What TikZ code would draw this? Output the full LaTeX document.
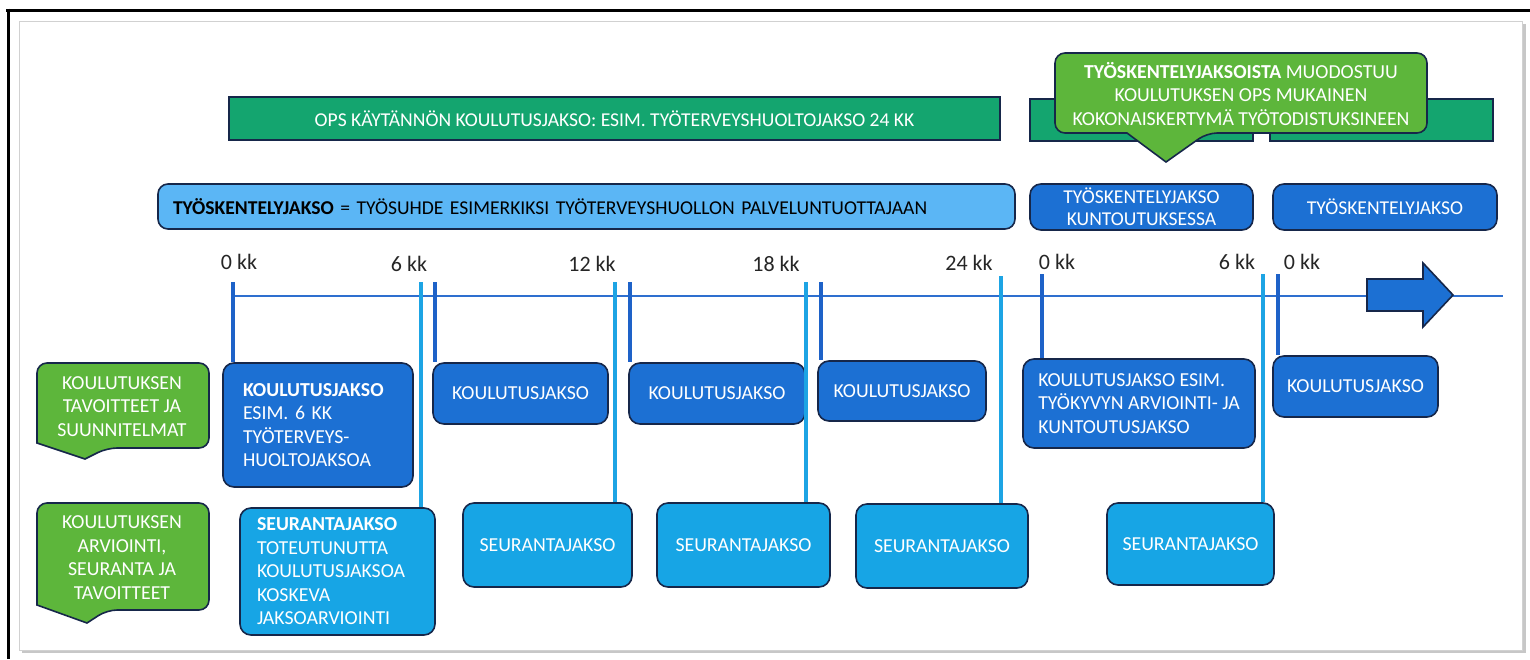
\documentclass[tikz,border=0pt]{standalone}
\usepackage{fontspec}
\setmainfont{Carlito}
\usetikzlibrary{calc}
\definecolor{cTeal}{HTML}{14A56F}
\definecolor{cLGreen}{HTML}{5DB63B}
\definecolor{cSky}{HTML}{5BB6F5}
\definecolor{cDBlue}{HTML}{1C70D3}
\definecolor{cLBlue}{HTML}{17A5E5}
\definecolor{cNavy}{HTML}{16274A}
\definecolor{cTickD}{HTML}{1E62C8}
\definecolor{cTickL}{HTML}{1DA4E4}
\definecolor{cLine}{HTML}{2E6FCF}
\newcommand\fsBox{\fontsize{19.8}{23.5}\selectfont}
\newcommand\fsHead{\fontsize{19.6}{22}\selectfont}
\newcommand\fsLab{\fontsize{22}{24}\selectfont}
\begin{document}
\begin{tikzpicture}[x=1pt,y=-1pt,
  bord/.style={draw=cNavy,line width=1.6pt},
  kbox/.style={bord,fill=cDBlue,rounded corners=11pt,text=white,inner sep=0pt,font=\fsBox},
  sbox/.style={bord,fill=cLBlue,rounded corners=11pt,text=white,inner sep=0pt,font=\fsBox},
  gbar/.style={bord,fill=cTeal,inner sep=0pt,text=white,font=\fsHead},
  gcall/.style={bord,fill=cLGreen,rounded corners=10pt},
  ctext/.style={text=white,inner sep=0pt,align=center,font=\fsBox},
  lab/.style={text=black!85,inner sep=0pt,font=\fsLab},
  dtick/.style={draw=cTickD,line width=3.5pt},
  ltick/.style={draw=cTickL,line width=4.5pt}]
\useasboundingbox (0,0) rectangle (1530,659);
% frame
\fill[black!22] (22,24) rectangle (1526,653);
\draw[fill=white,draw=black!18,line width=1pt] (19,21) rectangle (1522,650);
\draw[black,line width=3pt] (6,10) -- (1530,10);
\draw[black,line width=3pt] (8,8.5) -- (8,659);

% top bars
\node[gbar,minimum width=771pt,minimum height=43pt] (ops) at (614.5,118.5) {OPS KÄYTÄNNÖN KOULUTUSJAKSO: ESIM. TYÖTERVEYSHUOLTOJAKSO 24 KK};
\node[gbar,minimum width=223pt,minimum height=42pt] (opsA) at (1141.5,120) {};
\node[gbar,minimum width=223pt,minimum height=42pt] (opsB) at (1381.5,120) {};
% big callout
\draw[gcall] (1055,93) -- (1055,53) -- (1427,53) -- (1427,133) -- (1207,133) [sharp corners] -- (1166,162) -- (1127,133) [rounded corners=10pt] -- (1055,133) -- (1055,93);
\node[ctext] (callTop) at (1241,94) {\textbf{TYÖSKENTELYJAKSOISTA} MUODOSTUU\\KOULUTUKSEN OPS MUKAINEN\\KOKONAISKERTYMÄ TYÖTODISTUKSINEEN};

% work period bars
\node[bord,fill=cSky,rounded corners=10pt,minimum width=857pt,minimum height=45pt,inner sep=0pt,text width=827pt,align=left,font=\fsHead] (tyo) at (586.5,206.5) {\textbf{TYÖSKENTELYJAKSO} = TYÖSUHDE ESIMERKIKSI TYÖTERVEYSHUOLLON PALVELUNTUOTTAJAAN};
\node[kbox,font=\fsHead,minimum width=223pt,minimum height=46pt,align=center] (tyoK) at (1141.5,207) {TYÖSKENTELYJAKSO\\KUNTOUTUKSESSA};
\node[kbox,font=\fsHead,minimum width=224pt,minimum height=46pt] (tyoB) at (1385,207) {TYÖSKENTELYJAKSO};

% timeline
\coordinate (tlS) at (233,296);
\coordinate (tlE) at (1503,296);
\draw[cLine,line width=1.8pt] (tlS) -- (tlE);
\draw[bord,fill=cDBlue] (1367,279) -- (1423,279) -- (1423,263) -- (1453,295) -- (1423,327) -- (1423,311) -- (1367,311) -- cycle;

% row 1 boxes
\node[kbox,minimum width=190pt,minimum height=124pt,text width=150pt,align=left] (k1) at (318,425) {\textbf{KOULUTUSJAKSO}\\ESIM. 6 KK\\TYÖTERVEYS-\\HUOLTOJAKSOA};
\node[kbox,minimum width=175pt,minimum height=61pt] (k2) at (520.5,393.5) {KOULUTUSJAKSO};
\node[kbox,minimum width=176pt,minimum height=61pt] (k3) at (717,393.5) {KOULUTUSJAKSO};
\node[kbox,minimum width=168pt,minimum height=60pt] (k4) at (902,391) {KOULUTUSJAKSO};
\node[kbox,minimum width=232pt,minimum height=89pt,align=left] (k5) at (1139,403.5) {KOULUTUSJAKSO ESIM.\\TYÖKYVYN ARVIOINTI- JA\\KUNTOUTUSJAKSO};
\node[kbox,minimum width=165pt,minimum height=61pt] (k6) at (1355.5,386.5) {KOULUTUSJAKSO};

% row 2 boxes
\node[sbox,minimum width=195pt,minimum height=127pt,text width=161pt,align=left] (s1) at (337.5,571.5) {\textbf{SEURANTAJAKSO}\\TOTEUTUNUTTA\\KOULUTUSJAKSOA\\KOSKEVA\\JAKSOARVIOINTI};
\node[sbox,minimum width=169pt,minimum height=84pt] (s2) at (547.5,545) {SEURANTAJAKSO};
\node[sbox,minimum width=173pt,minimum height=84pt] (s3) at (743.5,545) {SEURANTAJAKSO};
\node[sbox,minimum width=172pt,minimum height=84pt] (s4) at (942,546) {SEURANTAJAKSO};
\node[sbox,minimum width=167pt,minimum height=82pt] (s5) at (1190.5,544) {SEURANTAJAKSO};

% green callouts
\draw[gcall] (37,400) -- (37,363) -- (209,363) -- (209,448) -- (107,448) [sharp corners] -- (85,459) -- (37,443) [rounded corners=10pt] -- (37,400);
\node[ctext] (g1) at (122,406.5) {KOULUTUKSEN\\TAVOITTEET JA\\SUUNNITELMAT};
\draw[gcall] (37,550) -- (37,503) -- (209,503) -- (209,610) -- (107,610) [sharp corners] -- (87,623) -- (37,605) [rounded corners=10pt] -- (37,550);
\node[ctext] (g2) at (122,557.5) {KOULUTUKSEN\\ARVIOINTI,\\SEURANTA JA\\TAVOITTEET};

% ticks
\coordinate (t0) at (233,282);
\coordinate (t6L) at (421,282);
\coordinate (t6D) at (435,282);
\coordinate (t12L) at (615,282);
\coordinate (t12D) at (630,282);
\coordinate (t18L) at (806,282);
\coordinate (t18D) at (821,282);
\coordinate (t24L) at (1001,276);
\coordinate (r0) at (1042,274);
\coordinate (r6L) at (1263,274);
\coordinate (r0b) at (1278,274);
\draw[dtick] (t0) -- (t0 |- k1.north);
\draw[ltick] (t6L) -- (t6L |- s1.north);
\draw[dtick] (t6D) -- (t6D |- k2.north);
\draw[ltick] (t12L) -- (t12L |- s2.north);
\draw[dtick] (t12D) -- (t12D |- k3.north);
\draw[ltick] (t18L) -- (t18L |- s3.north);
\draw[dtick] (t18D) -- (t18D |- k4.north);
\draw[ltick] (t24L) -- (t24L |- s4.north);
\draw[dtick] (r0) -- (r0 |- k5.north);
\draw[ltick] (r6L) -- (r6L |- s5.north);
\draw[dtick] (r0b) -- (r0b |- k6.north);

% labels
\node[lab] (l0) at (239,262) {0 kk};
\node[lab] (l6) at (409,264) {6 kk};
\node[lab] (l12) at (592,264) {12 kk};
\node[lab] (l18) at (776,264) {18 kk};
\node[lab] (l24) at (969,263) {24 kk};
\node[lab] (m0) at (1057,262) {0 kk};
\node[lab] (m6) at (1237,262) {6 kk};
\node[lab] (m0b) at (1302,262) {0 kk};
\end{tikzpicture}
\end{document}
